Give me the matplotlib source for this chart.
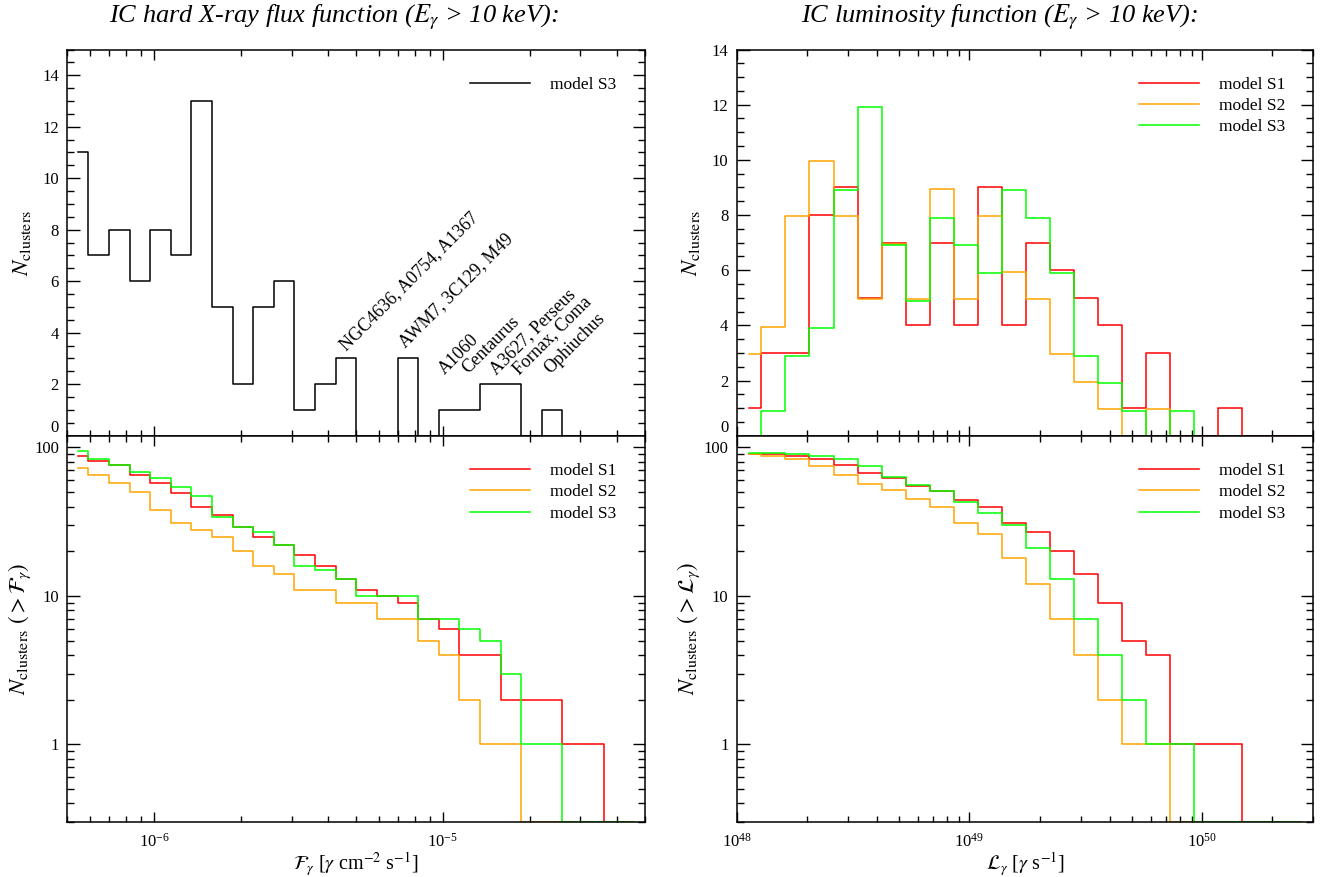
import matplotlib.pyplot as plt
import numpy as np
from matplotlib.ticker import MultipleLocator, LogLocator, NullFormatter, FixedLocator, FixedFormatter

plt.rcParams['font.family'] = ['Liberation Serif', 'DejaVu Serif']
plt.rcParams['mathtext.fontset'] = 'stix'

# bins (log spaced, as in the original plots)
flux_min, flux_max, n_flux = 5e-7, 5e-5, 28
lum_min, lum_max, n_lum = 1e48, 3e50, 24

# hard X-ray flux function, model S3 (differential)
flux_hist_s3 = [11, 7, 8, 6, 8, 7, 13, 5, 2, 5, 6, 1, 2, 3, 0, 0, 3, 0, 1, 1, 2, 2, 0, 1, 0, 0, 0, 0]
# cumulative N(>F) for models S1 and S2
flux_cum_s1 = [87, 81, 76, 65, 58, 49, 40, 35, 29, 25, 22, 19, 16, 13, 11, 10, 9, 7, 6, 4, 4, 2, 2, 2, 1, 1, 0, 0]
flux_cum_s2 = [73, 65, 58, 50, 38, 31, 28, 25, 20, 16, 14, 11, 11, 9, 9, 7, 7, 5, 4, 2, 1, 1, 0, 0, 0, 0, 0, 0]

# luminosity function (differential)
lum_hist_s1 = [1, 3, 3, 8, 9, 5, 7, 4, 7, 4, 9, 4, 7, 6, 5, 4, 1, 3, 0, 0, 1, 0, 0, 0]
lum_hist_s2 = [3, 4, 8, 10, 8, 5, 7, 5, 9, 5, 8, 6, 5, 3, 2, 1, 0, 1, 0, 0, 0, 0, 0, 0]
lum_hist_s3 = [0, 1, 3, 4, 9, 12, 7, 5, 8, 7, 6, 9, 8, 6, 3, 2, 1, 0, 1, 0, 0, 0, 0, 0]

models = ['model S1', 'model S2', 'model S3']
colors = ['#ff0000', '#ffa500', '#00ff00']

# cluster names written above the brightest flux bins
names = ['NGC4636, A0754, A1367', 'AWM7, 3C129, M49', 'A1060', 'Centaurus',
         'A3627, Perseus', 'Fornax, Coma', 'Ophiuchus']
name_flux = [4.60e-6, 7.37e-6, 1.013e-5, 1.23e-5, 1.53e-5, 1.83e-5, 2.36e-5]
name_y = [3.3, 3.4, 2.35, 2.4, 2.35, 2.35, 2.4]


def centres(lo, hi, n):
    e = np.logspace(np.log10(lo), np.log10(hi), n + 1)
    return np.sqrt(e[:-1] * e[1:])


def cumul(h):
    return np.cumsum(np.array(h)[::-1])[::-1]


xf = centres(flux_min, flux_max, n_flux)
xl = centres(lum_min, lum_max, n_lum)

W, H = 1323, 877
fig = plt.figure(figsize=(W / 100, H / 100), dpi=100)


def box(x0, x1, y0, y1):
    return [x0 / W, 1 - y1 / H, (x1 - x0) / W, (y1 - y0) / H]


ax_tl = fig.add_axes(box(67.3, 644.5, 49.5, 435.7))
ax_bl = fig.add_axes(box(67.3, 644.5, 435.7, 822))
ax_tr = fig.add_axes(box(736.7, 1313.3, 49.5, 435.7))
ax_br = fig.add_axes(box(736.7, 1313.3, 435.7, 822))

for ax in [ax_tl, ax_bl, ax_tr, ax_br]:
    ax.set_xscale('log')
    ax.tick_params(which='both', direction='in', top=True, right=True, labelsize=12, width=1)
    ax.tick_params(axis='x', which='major', length=7, pad=8)
    ax.tick_params(axis='x', which='minor', length=4)
    ax.tick_params(axis='y', which='major', length=9, pad=6)
    ax.tick_params(axis='y', which='minor', length=5)
    for s in ax.spines.values():
        s.set_linewidth(1.1)

ax_tl.set_xlim(flux_min, flux_max)
ax_bl.set_xlim(flux_min, flux_max)
ax_tr.set_xlim(lum_min, lum_max)
ax_br.set_xlim(lum_min, lum_max)

# top panels: differential counts
ax_tl.step(xf, flux_hist_s3, where='mid', color='black', lw=1.1, label='model S3')
offs = [0, -0.05, -0.1]
for h, c, m, o in zip([lum_hist_s1, lum_hist_s2, lum_hist_s3], colors, models, offs):
    ax_tr.step(xl, np.array(h) + o, where='mid', color=c, lw=1.1, label=m)

for ax, top in [(ax_tl, 15), (ax_tr, 14)]:
    ax.set_ylim(0, top)
    ax.yaxis.set_major_locator(FixedLocator(np.arange(0, 15, 2)))
    ax.yaxis.set_minor_locator(MultipleLocator(0.5))
    ax.tick_params(axis='x', which='both', labelbottom=False)
    ax.set_ylabel(r'$N_{\rm clusters}$', fontsize=16.5)
    ax.yaxis.set_label_coords(-0.06, 0.5)
    ax.yaxis.get_major_ticks()[0].label1.set_verticalalignment('bottom')

for n, fx, fy in zip(names, name_flux, name_y):
    ax_tl.text(fx, fy, n, rotation=45, rotation_mode='anchor', ha='left', va='baseline', fontsize=13)

# bottom panels: cumulative counts
ymin = 0.3
bl_cums = [flux_cum_s1, flux_cum_s2, cumul(flux_hist_s3)]
br_cums = [cumul(lum_hist_s1), cumul(lum_hist_s2), cumul(lum_hist_s3)]
for ax, xs, cums in [(ax_bl, xf, bl_cums), (ax_br, xl, br_cums)]:
    for cm, c, m in zip(cums, colors, models):
        ax.step(xs, np.clip(np.array(cm, dtype=float), ymin, None), where='mid', color=c, lw=1.1, label=m)
    ax.set_yscale('log')
    ax.set_ylim(ymin, 120)
    ax.yaxis.set_major_locator(FixedLocator([1, 10, 100]))
    ax.yaxis.set_major_formatter(FixedFormatter(['1', '10', '100']))
    ax.yaxis.set_minor_locator(LogLocator(base=10, subs=np.arange(2, 10)))
    ax.yaxis.set_minor_formatter(NullFormatter())
    ax.yaxis.set_label_coords(-0.06, 0.5)
    ax.xaxis.set_label_coords(0.5, -0.072)

ax_bl.set_ylabel(r'$N_{\rm clusters}\ (>\mathcal{F}_\gamma)$', fontsize=16.5)
ax_br.set_ylabel(r'$N_{\rm clusters}\ (>\mathcal{L}_\gamma)$', fontsize=16.5)
ax_bl.set_xlabel(r'$\mathcal{F}_\gamma$ [$\gamma$ cm$^{-2}$ s$^{-1}$]', fontsize=14.5)
ax_br.set_xlabel(r'$\mathcal{L}_\gamma$ [$\gamma$ s$^{-1}$]', fontsize=14.5)

for ax in [ax_tl, ax_bl, ax_tr, ax_br]:
    ax.legend(loc='upper left', bbox_to_anchor=(0.697, 0.93), frameon=False, fontsize=12.5,
              handlelength=3.5, handletextpad=1.15, labelspacing=0.3, borderpad=0, borderaxespad=0)

fig.text(334 / W, 1 - 17 / H, r'IC hard X-ray flux function ($E_\gamma$ > 10 keV):',
         ha='center', va='center', fontsize=19, style='italic')
fig.text(1000 / W, 1 - 17 / H, r'IC luminosity function ($E_\gamma$ > 10 keV):',
         ha='center', va='center', fontsize=19, style='italic')

fig.savefig('out.png', dpi=100)
